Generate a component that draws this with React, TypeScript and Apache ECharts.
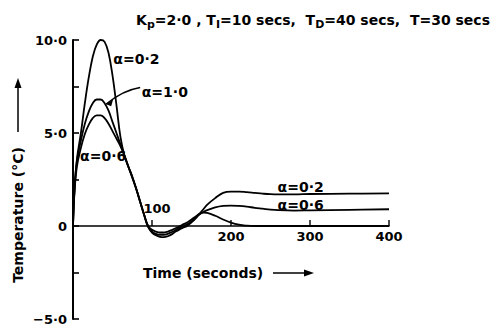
import React, { useEffect, useRef } from "react";
import * as echarts from "echarts";

const times = [0, 2, 5, 10, 15, 20, 25, 30, 35, 40, 45, 50, 55, 60, 65, 70, 75, 80, 85, 90, 95, 100, 105, 110, 115, 120, 125, 130, 135, 140, 145, 150, 155, 160, 165, 170, 180, 190, 200, 210, 220, 230, 240, 250, 260, 280, 300, 350, 400];

const alpha02 = [0, 2.0, 3.6, 5.0, 6.6, 8.0, 9.1, 9.75, 10.0, 9.9, 9.3, 8.1, 6.5, 4.8, 3.8, 3.2, 2.65, 2.0, 1.3, 0.6, -0.05, -0.35, -0.5, -0.58, -0.6, -0.55, -0.45, -0.3, -0.18, -0.08, 0.02, 0.2, 0.4, 0.65, 0.9, 1.15, 1.5, 1.78, 1.85, 1.85, 1.82, 1.78, 1.74, 1.71, 1.7, 1.7, 1.72, 1.74, 1.75];

const alpha06 = [0, 1.9, 3.2, 4.2, 4.95, 5.45, 5.8, 5.95, 5.95, 5.8, 5.5, 5.1, 4.7, 4.3, 3.8, 3.2, 2.65, 2.0, 1.3, 0.6, 0.0, -0.3, -0.42, -0.47, -0.47, -0.42, -0.33, -0.22, -0.1, 0.0, 0.1, 0.25, 0.45, 0.62, 0.75, 0.85, 1.0, 1.08, 1.1, 1.08, 1.04, 0.98, 0.93, 0.88, 0.85, 0.83, 0.84, 0.87, 0.9];

const alpha10 = [0, 2.1, 3.5, 4.6, 5.5, 6.15, 6.6, 6.8, 6.8, 6.6, 6.2, 5.6, 5.0, 4.4, 3.8, 3.2, 2.6, 2.0, 1.3, 0.6, 0.0, -0.2, -0.3, -0.35, -0.35, -0.3, -0.22, -0.12, -0.02, 0.1, 0.2, 0.35, 0.5, 0.65, 0.72, 0.7, 0.55, 0.35, 0.18, 0.07, 0.02, 0, 0, 0, 0, 0, 0, 0, 0];

const seriesNames = ["α=0·2", "α=0·6", "α=1·0"];
const xTickValues = [100, 200, 300, 400];
const xTickLabels = ["100", "200", "300", "400"];
const yTickLabels: Record<string, string> = { "10": "10·0", "5": "5·0", "0": "0", "-5": "−5·0" };

const FONT = "DejaVu Sans";

export default function App() {
  const ref = useRef<HTMLDivElement>(null);
  useEffect(() => {
    document.body.style.margin = "0";
    if (!ref.current) return;
    const chart = echarts.init(ref.current, null, { renderer: "svg" });
    const mk = (vals: number[]) => times.map((t, i) => [t, vals[i]]);
    const lineStyle = { color: "#000", width: 1.8 };
    chart.setOption({
      animation: false,
      backgroundColor: "#fff",
      title: {
        text: "K{sub|p}=2·0 , T{sub|I}=10 secs,  T{sub|D}=40 secs,  T=30 secs",
        right: 2,
        top: 5,
        textStyle: {
          fontFamily: FONT,
          fontSize: 14,
          fontWeight: "bold",
          color: "#000",
          rich: {
            sub: { fontFamily: FONT, fontSize: 11, fontWeight: "bold", color: "#000", padding: [9, 0, 0, 0] },
          },
        },
      },
      grid: { left: 73, right: 108, top: 40, bottom: 7 },
      xAxis: {
        type: "value",
        min: 0,
        max: 400,
        interval: 100,
        axisLine: { onZero: true, lineStyle: { color: "#000", width: 1.6 } },
        axisTick: { show: false },
        axisLabel: { show: false },
        splitLine: { show: false },
      },
      yAxis: {
        type: "value",
        min: -5,
        max: 10,
        interval: 2.5,
        axisLine: { show: true, lineStyle: { color: "#000", width: 2 } },
        axisTick: { show: true, inside: true, length: 6, lineStyle: { color: "#000", width: 1.6 } },
        axisLabel: {
          margin: 6,
          fontFamily: FONT,
          fontSize: 13,
          fontWeight: "bold",
          color: "#000",
          formatter: (v: number) => yTickLabels[String(v)] ?? "",
        },
        splitLine: { show: false },
      },
      series: [
        { name: seriesNames[0], type: "line", data: mk(alpha02), smooth: 0.4, symbol: "none", lineStyle },
        { name: seriesNames[1], type: "line", data: mk(alpha06), smooth: 0.4, symbol: "none", lineStyle },
        { name: seriesNames[2], type: "line", data: mk(alpha10), smooth: 0.4, symbol: "none", lineStyle },
      ],
    });

    const p = (x: number, y: number) => chart.convertToPixel({ gridIndex: 0 }, [x, y]) as number[];
    const lblStyle = { fontFamily: FONT, fontSize: 14, fontWeight: "bold", fill: "#000" };
    const txt = (s: string, at: number[], align = "left", extra: any = {}) => ({
      type: "text",
      x: at[0],
      y: at[1],
      style: { ...lblStyle, text: s, align, verticalAlign: "middle", ...extra },
    });

    const lead0 = p(85, 7.45);
    const lead1 = p(42, 6.55);
    const yArrowX = 18;
    const graphics: any[] = [
      txt(seriesNames[0], p(51, 9.0)),
      txt(seriesNames[2], p(87, 7.2)),
      txt(seriesNames[1], p(9, 3.75)),
      txt(seriesNames[0], p(259, 2.07)),
      txt(seriesNames[1], p(259, 1.12)),
      {
        type: "bezierCurve",
        shape: {
          x1: lead0[0], y1: lead0[1],
          x2: lead1[0], y2: lead1[1],
          cpx1: lead0[0] - 18, cpy1: lead0[1] + 3,
        },
        style: { stroke: "#000", lineWidth: 1.5, fill: null },
      },
      {
        type: "polygon",
        shape: { points: [[lead1[0], lead1[1]], [lead1[0] + 7, lead1[1] - 5], [lead1[0] + 5, lead1[1] + 2]] },
        style: { fill: "#000" },
      },
      // y-axis name
      {
        type: "text",
        x: yArrowX,
        y: 215,
        rotation: Math.PI / 2,
        style: { ...lblStyle, text: "Temperature (°C)", align: "center", verticalAlign: "middle" },
      },
      { type: "line", shape: { x1: yArrowX, y1: 132, x2: yArrowX, y2: 84 }, style: { stroke: "#000", lineWidth: 1.5 } },
      {
        type: "polygon",
        shape: { points: [[yArrowX, 78], [yArrowX - 3.5, 88], [yArrowX + 3.5, 88]] },
        style: { fill: "#000" },
      },
      // x-axis name
      { type: "text", x: 143, y: 273, style: { ...lblStyle, text: "Time (seconds)", align: "left", verticalAlign: "middle" } },
      { type: "line", shape: { x1: 273, y1: 273, x2: 306, y2: 273 }, style: { stroke: "#000", lineWidth: 1.5 } },
      {
        type: "polygon",
        shape: { points: [[314, 273], [304, 269.5], [304, 276.5]] },
        style: { fill: "#000" },
      },
    ];
    // x ticks (upward) and their labels; "100" sits above the axis
    xTickValues.forEach((v, i) => {
      const at = p(v, 0);
      graphics.push({
        type: "line",
        shape: { x1: at[0], y1: at[1], x2: at[0], y2: at[1] - 6 },
        style: { stroke: "#000", lineWidth: 1.4 },
      });
      if (v === 100) {
        graphics.push(txt(xTickLabels[i], [at[0] + 5, at[1] - 18], "center", { fontSize: 13 }));
      } else {
        graphics.push(txt(xTickLabels[i], [at[0], at[1] + 10], "center", { fontSize: 13 }));
      }
    });
    chart.setOption({ graphic: graphics });
    return () => chart.dispose();
  }, []);
  return <div ref={ref} style={{ width: 497, height: 326 }} />;
}
